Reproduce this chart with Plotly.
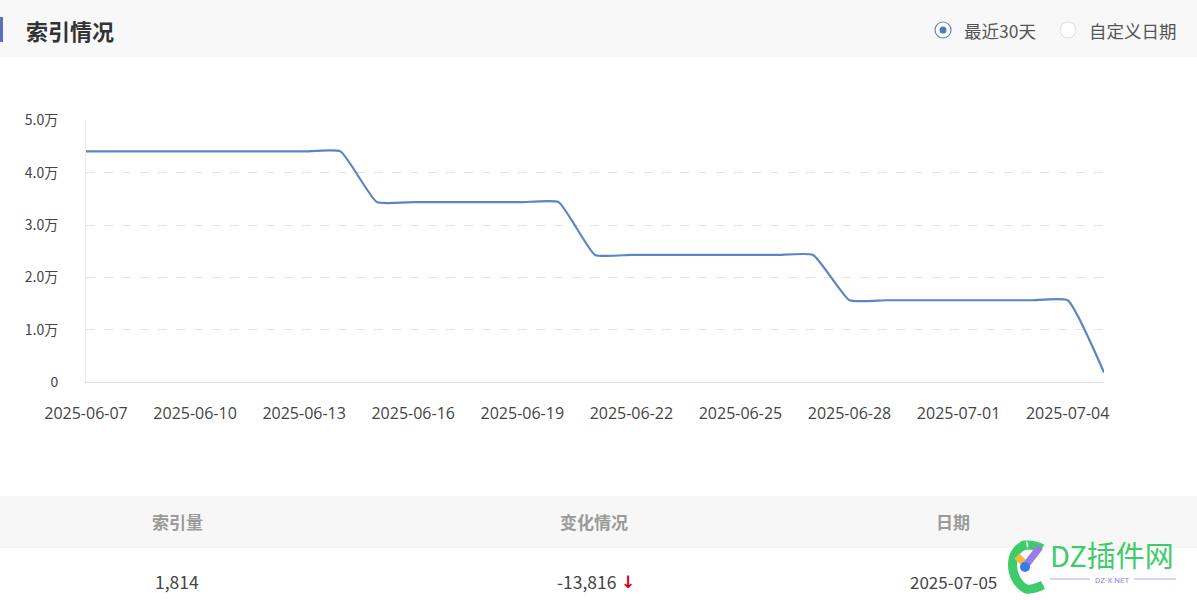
import plotly.graph_objects as go

dates = ["2025-06-07", "2025-06-08", "2025-06-09", "2025-06-10", "2025-06-11", "2025-06-12",
         "2025-06-13", "2025-06-14", "2025-06-15", "2025-06-16", "2025-06-17", "2025-06-18",
         "2025-06-19", "2025-06-20", "2025-06-21", "2025-06-22", "2025-06-23", "2025-06-24",
         "2025-06-25", "2025-06-26", "2025-06-27", "2025-06-28", "2025-06-29", "2025-06-30",
         "2025-07-01", "2025-07-02", "2025-07-03", "2025-07-04", "2025-07-05"]
index_counts = [44100, 44100, 44100, 44100, 44100, 44100, 44100, 44100,
                34400, 34400, 34400, 34400, 34400, 34400,
                24300, 24300, 24300, 24300, 24300, 24300, 24300,
                15630, 15630, 15630, 15630, 15630, 15630, 15630,
                1814]
y_tick_vals = [0, 10000, 20000, 30000, 40000, 50000]
y_tick_text = ["0", "1.0万", "2.0万", "3.0万", "4.0万", "5.0万"]
table_headers = ["索引量", "变化情况", "日期"]
table_row = ["1,814", "-13,816", "2025-07-05"]

W, H = 1197, 600
L, R, T, B = 86, 1104, 120, 382
FONT = "Noto Sans CJK SC, Microsoft YaHei, sans-serif"
NUMFONT = "Open Sans, Segoe UI, sans-serif"

def px(x):
    return (x - L) / (R - L)

def py(y):
    return (B - y) / (B - T)

fig = go.Figure()
fig.add_trace(go.Scatter(
    x=dates, y=index_counts, mode="lines",
    line=dict(color="#5b86c2", width=2.2, shape="spline", smoothing=0.42),
    hoverinfo="x+y", showlegend=False,
))

shapes = []
annotations = []

# header band
shapes.append(dict(type="rect", xref="paper", yref="paper", x0=px(0), x1=px(W), y0=py(57), y1=py(0),
                   fillcolor="#f8f8f8", line=dict(width=0), layer="below"))
shapes.append(dict(type="rect", xref="paper", yref="paper", x0=px(0), x1=px(3), y0=py(42), y1=py(17),
                   fillcolor="#5d6fb8", line=dict(width=0)))
annotations.append(dict(xref="paper", yref="paper", x=px(24), y=py(30), text="<b>索引情况</b>",
                        showarrow=False, xanchor="left", yanchor="middle",
                        font=dict(family=FONT, size=22, color="#333333")))
# radio buttons
shapes.append(dict(type="circle", xref="paper", yref="paper", x0=px(935), x1=px(951), y0=py(38), y1=py(22),
                   fillcolor="#ffffff", line=dict(color="#5b86c2", width=1.2)))
shapes.append(dict(type="circle", xref="paper", yref="paper", x0=px(939.5), x1=px(946.5), y0=py(33.5), y1=py(26.5),
                   fillcolor="#4a7cc0", line=dict(width=0)))
annotations.append(dict(xref="paper", yref="paper", x=px(962), y=py(30), text="最近30天",
                        showarrow=False, xanchor="left", yanchor="middle",
                        font=dict(family=FONT, size=17.5, color="#555555")))
shapes.append(dict(type="circle", xref="paper", yref="paper", x0=px(1060), x1=px(1076), y0=py(38), y1=py(22),
                   fillcolor="#ffffff", line=dict(color="#dddddd", width=1)))
annotations.append(dict(xref="paper", yref="paper", x=px(1087), y=py(30), text="自定义日期",
                        showarrow=False, xanchor="left", yanchor="middle",
                        font=dict(family=FONT, size=17.5, color="#555555")))

# table
shapes.append(dict(type="rect", xref="paper", yref="paper", x0=px(0), x1=px(W), y0=py(546), y1=py(496),
                   fillcolor="#f7f7f7", line=dict(width=0), layer="below"))
shapes.append(dict(type="line", xref="paper", yref="paper", x0=px(0), x1=px(W), y0=py(547), y1=py(547),
                   line=dict(color="#e8e8e8", width=1)))
col_x = [177, 594, 953]
for cx, h in zip(col_x, table_headers):
    annotations.append(dict(xref="paper", yref="paper", x=px(cx), y=py(521), text="<b>" + h + "</b>",
                            showarrow=False, xanchor="center", yanchor="middle",
                            font=dict(family=FONT, size=17, color="#9a9a9a")))
annotations.append(dict(xref="paper", yref="paper", x=px(col_x[0]), y=py(581), text=table_row[0],
                        showarrow=False, xanchor="center", yanchor="middle",
                        font=dict(family=FONT, size=17.5, color="#444444")))
annotations.append(dict(xref="paper", yref="paper", x=px(619), y=py(581), text=table_row[1],
                        showarrow=False, xanchor="right", yanchor="middle",
                        font=dict(family=FONT, size=17.5, color="#444444")))
annotations.append(dict(xref="paper", yref="paper", x=px(628), y=py(582), text="<b>↓</b>",
                        showarrow=False, xanchor="center", yanchor="middle",
                        font=dict(family="DejaVu Sans, sans-serif", size=17, color="#d0021b")))
annotations.append(dict(xref="paper", yref="paper", x=px(col_x[2]), y=py(581), text=table_row[2],
                        showarrow=False, xanchor="center", yanchor="middle",
                        font=dict(family=FONT, size=17, color="#444444")))

# watermark logo
cx0, cy0, rr = 1030, 567, 22
k = 0.5523 * rr
logo_path = ("M {:.5f},{:.5f} C {:.5f},{:.5f} {:.5f},{:.5f} {:.5f},{:.5f} "
             "C {:.5f},{:.5f} {:.5f},{:.5f} {:.5f},{:.5f} "
             "C {:.5f},{:.5f} {:.5f},{:.5f} {:.5f},{:.5f}").format(
    px(cx0 + 12), py(cy0 - 18.5),
    px(cx0 + 5), py(cy0 - 23), px(cx0 - k), py(cy0 - rr), px(cx0 - 4), py(cy0 - rr),
    px(cx0 - rr), py(cy0 - rr + 4), px(cx0 - rr), py(cy0 + k), px(cx0 - 4), py(cy0 + rr),
    px(cx0 + 3), py(cy0 + rr + 1), px(cx0 + 9), py(cy0 + rr - 2), px(cx0 + 13), py(cy0 + 18))
shapes.append(dict(type="path", xref="paper", yref="paper", path=logo_path,
                   line=dict(color="#3ecb6a", width=9)))
shapes.append(dict(type="line", xref="paper", yref="paper", x0=px(1017), y0=py(556), x1=px(1025), y1=py(564),
                   line=dict(color="#f5b942", width=7)))
shapes.append(dict(type="line", xref="paper", yref="paper", x0=px(1026), y0=py(565), x1=px(1040), y1=py(547),
                   line=dict(color="#9a7be8", width=7)))
shapes.append(dict(type="circle", xref="paper", yref="paper", x0=px(1020), x1=px(1030), y0=py(572), y1=py(562),
                   fillcolor="#3b7be8", line=dict(width=0)))
annotations.append(dict(xref="paper", yref="paper", x=px(1112), y=py(554), text="DZ插件网",
                        showarrow=False, xanchor="center", yanchor="middle",
                        font=dict(family=FONT, size=29, color="#3ecb6a")))
annotations.append(dict(xref="paper", yref="paper", x=px(1112), y=py(580), text="DZ-X.NET",
                        showarrow=False, xanchor="center", yanchor="middle",
                        font=dict(family="Roboto, sans-serif", size=8, color="#9a7be8")))
shapes.append(dict(type="line", xref="paper", yref="paper", x0=px(1050), x1=px(1090), y0=py(579), y1=py(579),
                   line=dict(color="#b7a4ee", width=1)))
shapes.append(dict(type="line", xref="paper", yref="paper", x0=px(1134), x1=px(1176), y0=py(579), y1=py(579),
                   line=dict(color="#b7a4ee", width=1)))

fig.update_layout(
    width=W, height=H,
    margin=dict(l=L, r=W - R, t=T, b=H - B),
    paper_bgcolor="#ffffff", plot_bgcolor="#ffffff",
    font=dict(family=FONT, color="#555555"),
    shapes=shapes, annotations=annotations,
    showlegend=False,
    xaxis=dict(
        type="date", range=[dates[0], dates[-1]],
        tick0=dates[0], dtick=3 * 86400000, tickformat="%Y-%m-%d",
        showgrid=False, zeroline=False,
        showline=True, linecolor="#e0e0e0", linewidth=1,
        ticks="", ticklabelstandoff=17,
        tickfont=dict(family=NUMFONT, size=16, color="#444444"),
    ),
    yaxis=dict(
        range=[0, 50100], tickvals=y_tick_vals, ticktext=y_tick_text,
        showgrid=True, gridcolor="#e3e3e3", griddash="dash", gridwidth=1,
        zeroline=False, showline=True, linecolor="#eeeeee", linewidth=1,
        ticks="", ticklabelstandoff=24,
        tickfont=dict(family=FONT, size=14, color="#444444"),
    ),
)

fig.write_html("out.html")
